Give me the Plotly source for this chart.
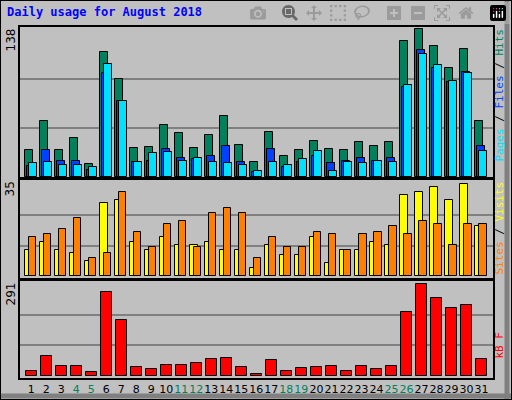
import plotly.graph_objects as go
from plotly.subplots import make_subplots

days = list(range(1, 32))
weekend = [4, 5, 11, 12, 18, 19, 25, 26]

hits = [25, 52, 25, 36, 12, 117, 92, 27, 28, 49, 41, 27, 39, 57, 30, 14,
        42, 20, 25, 34, 26, 25, 33, 29, 33, 127, 138, 122, 102, 120, 52]
files = [10, 25, 15, 15, 7, 97, 71, 14, 15, 26, 18, 17, 20, 29, 14, 5,
         26, 9, 14, 20, 13, 15, 18, 15, 18, 84, 119, 102, 89, 98, 29]
pages = [13, 14, 11, 11, 9, 106, 71, 14, 22, 23, 15, 18, 14, 13, 11, 6,
         14, 11, 17, 24, 6, 14, 13, 15, 14, 86, 115, 105, 90, 97, 24]
sites = [10, 13, 10, 9, 6, 28, 29, 13, 10, 15, 12, 12, 13, 10, 10, 3,
         12, 8, 8, 15, 5, 10, 10, 13, 12, 31, 32, 34, 29, 35, 19]
visits = [15, 16, 18, 22, 7, 9, 32, 17, 11, 20, 21, 11, 24, 26, 24, 7,
          15, 11, 11, 17, 16, 10, 16, 17, 19, 16, 21, 20, 12, 20, 20]
kbytes = [14, 62, 30, 30, 11, 266, 176, 27, 20, 33, 33, 39, 52, 55, 27, 4,
          49, 14, 23, 27, 30, 14, 30, 20, 30, 202, 291, 246, 215, 224, 52]

tick_text = []
for d in days:
    if d in weekend:
        tick_text.append('<span style="color:#00805C">%d</span>' % d)
    else:
        tick_text.append(str(d))

fig = make_subplots(rows=3, cols=1, shared_xaxes=True)

line = dict(color="black", width=1)
fig.add_trace(go.Bar(x=days, y=hits, marker=dict(color="#00805C", line=line), width=0.49, offset=-0.4), 1, 1)
fig.add_trace(go.Bar(x=days, y=files, marker=dict(color="#0040FF", line=line), width=0.49, offset=-0.27), 1, 1)
fig.add_trace(go.Bar(x=days, y=pages, marker=dict(color="#00E0FF", line=line), width=0.49, offset=-0.13), 1, 1)
fig.add_trace(go.Bar(x=days, y=sites, marker=dict(color="#FFFF00", line=line), width=0.49, offset=-0.4), 2, 1)
fig.add_trace(go.Bar(x=days, y=visits, marker=dict(color="#FF8000", line=line), width=0.47, offset=-0.13), 2, 1)
fig.add_trace(go.Bar(x=days, y=kbytes, marker=dict(color="#FF0000", line=line), width=0.71, offset=-0.355), 3, 1)

fig.update_layout(
    width=512, height=400, margin=dict(l=0, r=0, t=0, b=0),
    paper_bgcolor="#C0C0C0", plot_bgcolor="#C0C0C0",
    barmode="overlay", showlegend=False, bargap=0,
    font=dict(family="DejaVu Sans", size=11, color="black"),
)

xdom = [20 / 512, 493 / 512]
for name in ["xaxis", "xaxis2", "xaxis3"]:
    fig.layout[name].update(domain=xdom, range=[0.25, 31.77], showgrid=False,
                            showline=True, linecolor="black", linewidth=1.5, mirror=True,
                            ticks="", showticklabels=False)
fig.layout.xaxis3.update(showticklabels=True, tickvals=days, ticktext=tick_text, tickangle=0,
                         tickfont=dict(size=11, family="DejaVu Sans"))

ymax = [138, 35, 291]
ydoms = [[0.5575, 0.9325], [0.305, 0.55], [0.055, 0.2975]]
yranges = [[0, 140.2], [-0.65, 36.6], [-7.3, 301.5]]
for i, name in enumerate(["yaxis", "yaxis2", "yaxis3"]):
    m = ymax[i]
    fig.layout[name].update(domain=ydoms[i], range=yranges[i], tickvals=[m / 3, 2 * m / 3],
                            showticklabels=False, ticks="", gridcolor="#808080", gridwidth=1.5,
                            zeroline=False, showline=True, linecolor="black", linewidth=1.5, mirror=True)

# max labels at left
for m, yp in zip(ymax, [27, 180, 281]):
    fig.add_annotation(text=str(m), x=10 / 512, y=1 - yp / 400, xref="paper", yref="paper",
                       xanchor="center", yanchor="top", textangle=-90, showarrow=False,
                       font=dict(size=12, family="DejaVu Sans"))

fig.add_annotation(text="<b>Daily usage for August 2018</b>", x=5 / 512, y=1 - 3 / 400,
                   xref="paper", yref="paper", xanchor="left", yanchor="top", showarrow=False,
                   font=dict(size=12, family="DejaVu Sans Mono", color="#0000FF"))

legends = [
    ('<span style="color:#00E0FF">Pages</span> / <span style="color:#0040FF">Files</span>'
     ' / <span style="color:#00805C">Hits</span>', 27),
    ('<span style="color:#FF8000">Sites</span> / <span style="color:#FFFF00">Visits</span>', 180),
    ('<span style="color:#FF0000">kB F</span>', 330),
]
for txt, yp in legends:
    fig.add_annotation(text=txt, x=499 / 512, y=1 - yp / 400, xref="paper", yref="paper",
                       xanchor="center", yanchor="top", textangle=-90, showarrow=False,
                       font=dict(size=11, family="DejaVu Sans Mono", color="black"))

# frame
fig.add_shape(type="line", xref="paper", yref="paper", x0=1 - 5 / 512, y0=0, x1=1 - 5 / 512, y1=1,
              line=dict(color="#808080", width=5), layer="below")
fig.add_shape(type="line", xref="paper", yref="paper", x0=0, y0=4 / 400, x1=1, y1=4 / 400,
              line=dict(color="#808080", width=5), layer="below")
fig.add_shape(type="rect", xref="paper", yref="paper", x0=0, y0=0, x1=1, y1=1,
              line=dict(color="black", width=2), layer="below")

fig.write_html("out.html", post_script="document.body.style.margin='0';")
